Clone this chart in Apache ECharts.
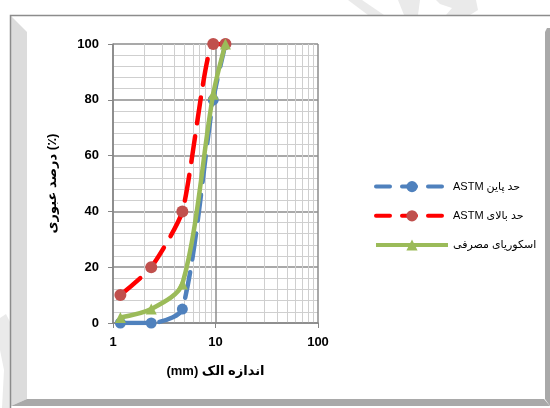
<!DOCTYPE html>
<html>
<head>
<meta charset="utf-8">
<script src="https://cdn.jsdelivr.net/npm/echarts@6/dist/echarts.min.js"></script>
<style>
html,body{margin:0;padding:0;background:#fff;}
#chart{width:550px;height:408px;}
</style>
</head>
<body>
<div id="chart"></div>
<script>
// Sieve sizes (mm)
var sieves = [1.18, 2.36, 4.75, 9.5, 12.5];
// ASTM lower limit (% passing)
var lowerLimit = [0, 0, 5, 80, 100];
// ASTM upper limit (% passing)
var upperLimit = [10, 20, 40, 100, 100];
// Used aggregate gradation (% passing)
var usedMix = [2, 5, 14, 82, 100];
// Minor log grid positions
var minorX = [2, 3, 4, 5, 6, 7, 8, 9, 20, 30, 40, 50, 60, 70, 80, 90];

var nameLower = 'ASTM حد پاین';
var nameUpper = 'ASTM حد بالای';
var nameMix = 'اسکوریای مصرفی';

function pairs(xs, ys){ return xs.map(function(x,i){ return [x, ys[i]]; }); }

var chart = echarts.init(document.getElementById('chart'));
var font = '"Liberation Sans", Arial, "DejaVu Sans", sans-serif';
var wm = '#EAEAEA';

chart.setOption({
  animation: false,
  backgroundColor: '#ffffff',
  textStyle: { fontFamily: font },
  graphic: [
    // faint watermark fragments outside the frame
    { type: 'polygon', z: -20, silent: true,
      shape: { points: [[348,0],[362,0],[384,15],[368,15]] }, style: { fill: wm } },
    { type: 'polygon', z: -20, silent: true,
      shape: { points: [[398,0],[420,0],[418,15],[404,15]] }, style: { fill: wm } },
    { type: 'polygon', z: -20, silent: true,
      shape: { points: [[436,0],[476,0],[478,10],[470,15],[446,15],[452,8],[440,4]] }, style: { fill: wm } },
    { type: 'polygon', z: -20, silent: true,
      shape: { points: [[0,318],[6,314],[10,322],[10,408],[2,408],[4,370],[0,350]] }, style: { fill: wm } },
    // frame bevels
    { type: 'polygon', z: -10, silent: true,
      shape: { points: [[11,16],[27,32],[27,399],[11,406]] },
      style: { fill: '#DCDCDC' } },
    { type: 'polygon', z: -10, silent: true,
      shape: { points: [[11,406],[27,399],[544,399],[550,406]] },
      style: { fill: '#A9A9A9' } },
    { type: 'polygon', z: -10, silent: true,
      shape: { points: [[545,32],[547,28],[550,28],[550,406],[545,399]] },
      style: { fill: '#A9A9A9' } },
    { type: 'polyline', z: -9, silent: true,
      shape: { points: [[10.5,408],[10.5,15.5],[550,15.5]] },
      style: { fill: null, stroke: '#8C8C8C', lineWidth: 1.5 } }
  ],
  grid: { left: 113, right: 232, top: 44, bottom: 85, containLabel: false },
  legend: {
    data: [
      { name: nameLower, lineStyle: { type: [14, 12], width: 4, cap: 'round' } },
      { name: nameUpper, lineStyle: { type: [14, 12], width: 4, cap: 'round' } },
      { name: nameMix, lineStyle: { width: 4 } }
    ],
    orient: 'vertical',
    left: 369, top: 176,
    itemWidth: 72, itemHeight: 14, itemGap: 18,
    textStyle: { fontSize: 11, color: '#000', fontFamily: font }
  },
  xAxis: {
    type: 'log', logBase: 10, min: 1, max: 100,
    name: '(mm) اندازه الک',
    nameLocation: 'middle', nameGap: 42,
    nameTextStyle: { fontSize: 13, fontWeight: 'bold', color: '#000' },
    axisLine: { show: true, lineStyle: { color: '#868686', width: 1.5 } },
    axisTick: { show: true, length: 5, lineStyle: { color: '#868686' } },
    axisLabel: { fontSize: 13, fontWeight: 'bold', color: '#000', margin: 13 },
    splitLine: { show: true, lineStyle: { color: '#8C8C8C', width: 1.5 } },
    minorTick: { show: false }
  },
  yAxis: {
    type: 'value', min: 0, max: 100, interval: 20,
    name: 'درصد عبوری (٪)',
    nameLocation: 'middle', nameGap: 54, nameRotate: 90,
    nameTextStyle: { fontSize: 13, fontWeight: 'bold', color: '#000' },
    axisLine: { show: true, lineStyle: { color: '#868686', width: 1.5 } },
    axisTick: { show: true, length: 5, lineStyle: { color: '#868686' } },
    axisLabel: { fontSize: 13, fontWeight: 'bold', color: '#000', margin: 14 },
    splitLine: { show: true, lineStyle: { color: '#8C8C8C', width: 1.5 } },
    minorTick: { show: false, splitNumber: 5 },
    minorSplitLine: { show: true, lineStyle: { color: '#CFCFCF', width: 1 } }
  },
  series: [
    {
      name: 'grid', type: 'line', data: [], z: 0, silent: true,
      markLine: {
        silent: true, symbol: 'none', z: 0, animation: false,
        label: { show: false },
        lineStyle: { color: '#CFCFCF', type: 'solid', width: 1 },
        data: minorX.map(function(v){ return { xAxis: v }; })
      }
    },
    {
      name: nameLower, type: 'line', data: pairs(sieves, lowerLimit),
      smooth: 0.25, z: 3,
      symbol: 'circle', symbolSize: 11,
      itemStyle: { color: '#4F81BD' },
      lineStyle: { color: '#4F81BD', width: 4.5, type: [26, 13], cap: 'round' }
    },
    {
      name: nameUpper, type: 'line', data: pairs(sieves, upperLimit),
      smooth: 0.2, z: 4,
      symbol: 'circle', symbolSize: 12,
      itemStyle: { color: '#C0504D' },
      lineStyle: { color: '#FF0000', width: 4.5, type: [26, 13], cap: 'round' }
    },
    {
      name: nameMix, type: 'line', data: pairs(sieves, usedMix),
      smooth: 0.3, z: 5,
      symbol: 'triangle', symbolSize: 11,
      itemStyle: { color: '#9BBB59' },
      lineStyle: { color: '#9BBB59', width: 4.5 }
    }
  ]
});
</script>
</body>
</html>
